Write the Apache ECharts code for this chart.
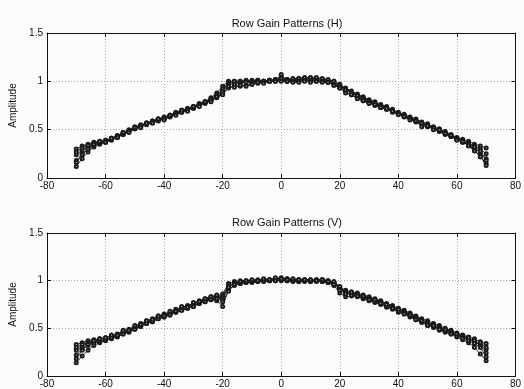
<!DOCTYPE html>
<html>
<head>
<meta charset="utf-8">
<script src="https://cdn.jsdelivr.net/npm/echarts@6/dist/echarts.min.js"></script>
<style>
  html, body { margin: 0; padding: 0; background: #fbfbfa; }
  #box { width: 524px; height: 389px; }
</style>
</head>
<body>
<div id="box"></div>
<script>
// angle (deg)
var angles = [
  -70,-68,-66,-64,-62,-60,-58,-56,-54,-52,
  -50,-48,-46,-44,-42,-40,-38,-36,-34,-32,
  -30,-28,-26,-24,-22,-20,-18,-16,-14,-12,
  -10,-8,-6,-4,-2,0,2,4,6,8,
  10,12,14,16,18,20,22,24,26,28,
  30,32,34,36,38,40,42,44,46,48,
  50,52,54,56,58,60,62,64,66,68,
  70
];

// Row Gain Patterns (H)
var h1 = [
  0.30,0.33,0.35,0.37,0.38,0.39,0.41,0.44,0.47,0.50,
  0.53,0.55,0.57,0.59,0.61,0.63,0.65,0.68,0.70,0.72,
  0.74,0.77,0.79,0.83,0.88,0.95,1.00,1.00,1.00,1.01,
  1.00,1.01,1.00,1.01,1.02,1.05,1.02,1.02,1.03,1.03,
  1.03,1.03,1.02,1.01,1.00,0.97,0.93,0.90,0.87,0.84,
  0.81,0.79,0.76,0.74,0.71,0.68,0.66,0.63,0.61,0.58,
  0.56,0.53,0.51,0.48,0.45,0.42,0.40,0.38,0.35,0.33,
  0.31
];
var h2 = [
  0.12,0.20,0.27,0.32,0.35,0.37,0.39,0.42,0.45,0.48,
  0.51,0.53,0.55,0.57,0.59,0.61,0.63,0.66,0.68,0.70,
  0.72,0.75,0.77,0.80,0.83,0.87,0.93,0.95,0.95,0.96,
  0.97,0.98,0.99,1.00,1.00,1.01,1.00,1.00,1.01,1.01,
  1.01,1.01,1.00,0.99,0.97,0.93,0.89,0.86,0.83,0.80,
  0.78,0.76,0.73,0.71,0.68,0.66,0.63,0.61,0.58,0.56,
  0.54,0.51,0.49,0.46,0.43,0.40,0.37,0.34,0.29,0.22,
  0.15
];
var h3 = [
  0.24,0.29,0.32,0.35,0.37,0.38,0.40,0.43,0.46,0.49,
  0.52,0.54,0.56,0.58,0.60,0.62,0.64,0.67,0.69,0.71,
  0.73,0.76,0.78,0.81,0.85,0.90,0.98,0.99,0.99,1.00,
  1.00,1.00,1.00,1.01,1.01,1.02,1.01,1.01,1.02,1.02,
  1.02,1.02,1.01,1.00,0.98,0.95,0.92,0.89,0.86,0.83,
  0.80,0.78,0.75,0.73,0.70,0.67,0.65,0.62,0.60,0.57,
  0.55,0.52,0.50,0.47,0.44,0.41,0.38,0.36,0.33,0.30,
  0.25
];
var h4 = [
  0.18,0.25,0.30,0.34,0.36,0.37,0.40,0.42,0.45,0.48,
  0.51,0.54,0.57,0.59,0.61,0.62,0.65,0.67,0.70,0.72,
  0.74,0.76,0.79,0.82,0.86,0.92,0.99,1.00,1.00,1.00,
  1.01,1.01,1.00,1.01,1.02,1.03,1.02,1.03,1.03,1.04,
  1.04,1.04,1.03,1.02,1.00,0.96,0.92,0.88,0.84,0.81,
  0.78,0.75,0.73,0.71,0.69,0.66,0.64,0.61,0.59,0.56,
  0.53,0.51,0.48,0.45,0.43,0.40,0.37,0.34,0.31,0.26,
  0.20
];
var h5 = [
  0.27,0.31,0.34,0.36,0.37,0.39,0.41,0.43,0.46,0.49,
  0.51,0.54,0.56,0.58,0.60,0.62,0.64,0.66,0.68,0.71,
  0.73,0.75,0.78,0.80,0.84,0.89,0.97,0.97,0.98,0.99,
  0.99,0.99,1.00,1.00,1.01,1.00,1.00,1.00,1.00,1.01,
  1.01,1.00,1.00,0.99,0.96,0.94,0.91,0.88,0.85,0.82,
  0.79,0.77,0.74,0.72,0.69,0.67,0.64,0.62,0.59,0.57,
  0.54,0.52,0.49,0.46,0.43,0.40,0.38,0.35,0.32,0.28,
  0.18
];
var h6 = [
  0.16,0.24,0.30,0.35,0.38,0.37,0.41,0.42,0.47,0.47,
  0.52,0.52,0.57,0.57,0.61,0.60,0.65,0.65,0.70,0.69,
  0.74,0.74,0.79,0.79,0.84,0.86,0.95,0.94,0.96,0.95,
  0.97,0.99,0.98,1.00,1.00,1.07,1.00,0.99,0.99,1.00,
  0.99,1.00,0.99,0.99,0.96,0.93,0.88,0.86,0.82,0.80,
  0.77,0.76,0.73,0.72,0.69,0.66,0.64,0.60,0.59,0.53,
  0.54,0.50,0.50,0.46,0.44,0.39,0.38,0.33,0.28,0.22,
  0.13
];

// Row Gain Patterns (V)
var v1 = [
  0.33,0.35,0.37,0.38,0.39,0.40,0.42,0.44,0.47,0.49,
  0.52,0.55,0.58,0.60,0.63,0.65,0.67,0.70,0.72,0.74,
  0.76,0.79,0.81,0.83,0.84,0.86,0.97,0.99,1.00,1.00,
  1.00,1.01,1.01,1.01,1.02,1.03,1.02,1.01,1.01,1.01,
  1.01,1.01,1.01,1.00,0.98,0.93,0.90,0.88,0.87,0.85,
  0.83,0.81,0.79,0.76,0.74,0.71,0.69,0.66,0.63,0.60,
  0.58,0.55,0.53,0.50,0.48,0.45,0.43,0.41,0.39,0.36,
  0.34
];
var v2 = [
  0.14,0.21,0.27,0.32,0.35,0.37,0.39,0.41,0.44,0.46,
  0.49,0.52,0.55,0.57,0.60,0.62,0.64,0.67,0.69,0.71,
  0.73,0.76,0.78,0.80,0.79,0.73,0.90,0.95,0.97,0.98,
  0.98,0.99,0.99,1.00,1.00,1.00,1.00,0.99,0.99,0.99,
  0.99,0.99,0.99,0.98,0.95,0.87,0.83,0.84,0.83,0.81,
  0.79,0.77,0.75,0.72,0.70,0.67,0.65,0.62,0.59,0.56,
  0.53,0.51,0.48,0.46,0.44,0.41,0.38,0.35,0.30,0.23,
  0.16
];
var v3 = [
  0.27,0.31,0.34,0.36,0.37,0.38,0.40,0.42,0.45,0.47,
  0.50,0.53,0.56,0.58,0.61,0.63,0.65,0.68,0.70,0.72,
  0.74,0.77,0.79,0.81,0.82,0.84,0.95,0.97,0.98,0.99,
  0.99,1.00,1.00,1.00,1.01,1.01,1.01,1.00,1.00,1.00,
  1.00,1.00,1.00,0.99,0.97,0.91,0.88,0.86,0.85,0.83,
  0.81,0.79,0.77,0.74,0.72,0.69,0.67,0.64,0.61,0.58,
  0.55,0.53,0.50,0.48,0.46,0.43,0.41,0.39,0.36,0.33,
  0.28
];
var v4 = [
  0.22,0.28,0.32,0.35,0.36,0.38,0.40,0.43,0.46,0.48,
  0.51,0.54,0.57,0.59,0.62,0.64,0.66,0.69,0.71,0.73,
  0.75,0.78,0.80,0.82,0.83,0.82,0.94,0.97,0.99,0.99,
  1.00,1.00,1.01,1.01,1.02,1.02,1.02,1.01,1.01,1.01,
  1.00,1.01,1.01,1.00,0.98,0.92,0.89,0.87,0.86,0.84,
  0.82,0.80,0.78,0.75,0.73,0.70,0.68,0.65,0.62,0.59,
  0.56,0.54,0.51,0.49,0.47,0.44,0.42,0.40,0.37,0.32,
  0.24
];
var v5 = [
  0.30,0.33,0.35,0.37,0.37,0.38,0.40,0.42,0.44,0.47,
  0.49,0.52,0.55,0.57,0.60,0.62,0.64,0.67,0.69,0.71,
  0.73,0.76,0.78,0.80,0.81,0.80,0.93,0.96,0.97,0.98,
  0.99,0.99,1.00,1.00,1.00,1.01,1.00,1.00,0.99,1.00,
  0.99,1.00,0.99,0.98,0.96,0.90,0.87,0.85,0.84,0.82,
  0.80,0.78,0.76,0.73,0.71,0.68,0.66,0.63,0.60,0.57,
  0.54,0.52,0.49,0.47,0.45,0.42,0.40,0.37,0.34,0.30,
  0.20
];
var v6 = [
  0.18,0.27,0.33,0.37,0.39,0.40,0.43,0.43,0.48,0.48,
  0.53,0.54,0.58,0.59,0.63,0.63,0.68,0.68,0.73,0.72,
  0.77,0.78,0.81,0.83,0.85,0.78,0.89,0.96,0.99,1.00,
  1.01,1.00,1.02,1.01,1.03,1.02,1.01,1.02,1.01,1.01,
  1.01,1.00,1.01,0.99,0.99,0.94,0.86,0.88,0.84,0.84,
  0.80,0.80,0.76,0.75,0.71,0.70,0.65,0.64,0.59,0.58,
  0.53,0.53,0.49,0.49,0.44,0.44,0.39,0.40,0.34,0.35,
  0.30
];

var hLines = [h1, h2, h3, h4, h5, h6];
var vLines = [v1, v2, v3, v4, v5, v6];

var chart = echarts.init(document.getElementById("box"));
var font = "Liberation Sans";
var ink = "#111";

function makeX(gi, showLabel, pos) {
  return {
    type: "value", gridIndex: gi, min: -80, max: 80, interval: 20, position: pos,
    axisLine: { show: true, onZero: false, lineStyle: { color: ink, width: 1 } },
    axisTick: { show: true, inside: true, length: 4, lineStyle: { color: ink } },
    axisLabel: { show: showLabel, color: ink, fontFamily: font, fontSize: 10, margin: 3 },
    splitLine: { show: showLabel, lineStyle: { color: "#a8a8a8", type: [1, 2], width: 1 } }
  };
}
function makeY(gi, showLabel, pos) {
  return {
    type: "value", gridIndex: gi, min: 0, max: 1.5, interval: 0.5, position: pos,
    name: showLabel ? "Amplitude" : "", nameLocation: "middle", nameGap: 24,
    nameTextStyle: { color: ink, fontFamily: font, fontSize: 10 },
    axisLine: { show: true, onZero: false, lineStyle: { color: ink, width: 1 } },
    axisTick: { show: true, inside: true, length: 4, lineStyle: { color: ink } },
    axisLabel: { show: showLabel, color: ink, fontFamily: font, fontSize: 10, margin: 4 },
    splitLine: { show: showLabel, lineStyle: { color: "#a8a8a8", type: [1, 2], width: 1 } }
  };
}

var series = [];
function addLines(lines, xi, yi) {
  lines.forEach(function (arr) {
    series.push({
      type: "line", xAxisIndex: xi, yAxisIndex: yi,
      data: angles.map(function (a, i) { return [a, arr[i]]; }),
      symbol: "emptyCircle", symbolSize: 3, showSymbol: true, showAllSymbol: true,
      lineStyle: { color: "#1a1a1a", width: 0.9, type: "solid" },
      itemStyle: { color: "#1a1a1a", borderColor: "#1a1a1a", borderWidth: 0.6 },
      animation: false, silent: true
    });
  });
}
addLines(hLines, 0, 0);
addLines(vLines, 2, 2);

var option = {
  backgroundColor: "#fbfbfa",
  animation: false,
  title: [
    { text: "Row Gain Patterns (H)", left: 282, top: 13, textAlign: "center",
      textStyle: { color: ink, fontFamily: font, fontSize: 11, fontWeight: "normal" } },
    { text: "Row Gain Patterns (V)", left: 282, top: 212, textAlign: "center",
      textStyle: { color: ink, fontFamily: font, fontSize: 11, fontWeight: "normal" } }
  ],
  grid: [
    { left: 47, right: 7, top: 33, height: 145 },
    { left: 47, right: 7, top: 233, height: 146 }
  ],
  xAxis: [makeX(0, true, "bottom"), makeX(0, false, "top"), makeX(1, true, "bottom"), makeX(1, false, "top")],
  yAxis: [makeY(0, true, "left"), makeY(0, false, "right"), makeY(1, true, "left"), makeY(1, false, "right")],
  series: series
};
chart.setOption(option);
</script>
</body>
</html>
